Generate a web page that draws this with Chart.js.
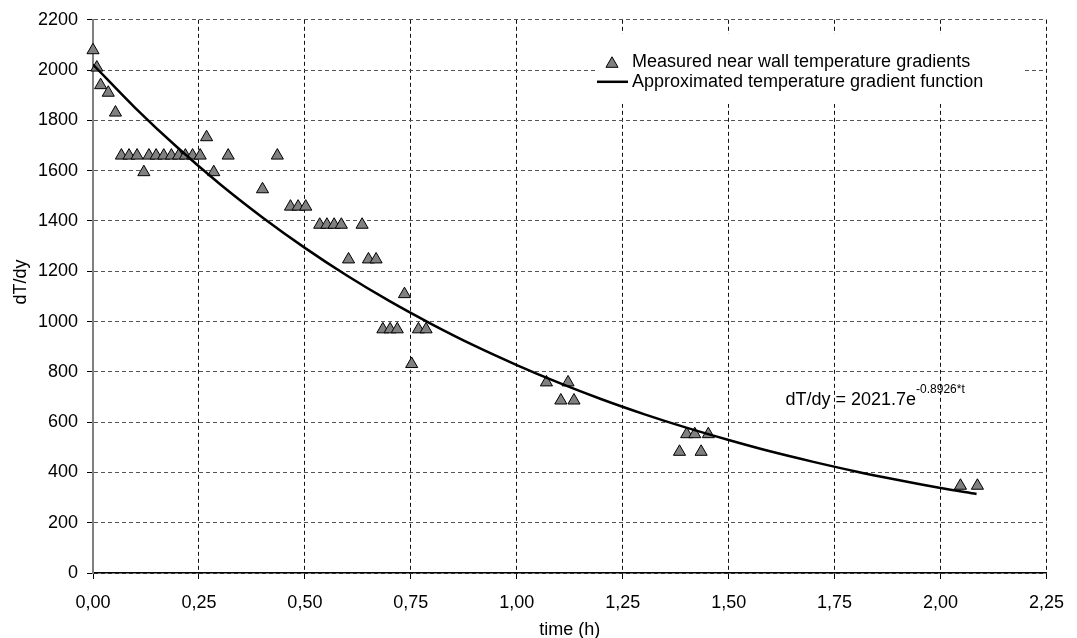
<!DOCTYPE html>
<html>
<head>
<meta charset="utf-8">
<script src="https://cdn.jsdelivr.net/npm/chart.js@4.4.0/dist/chart.umd.min.js"></script>
<style>
  html, body { margin: 0; padding: 0; background: #fff; }
  #wrap { width: 1077px; height: 638px; }
</style>
</head>
<body>
<div id="wrap"><canvas id="chart" width="1077" height="638"></canvas></div>
<script>
// measured points (time in h, dT/dy)
const measuredT = [0.000, 0.009, 0.018, 0.036, 0.053, 0.067, 0.085, 0.104, 0.120, 0.132,
                   0.149, 0.167, 0.185, 0.202, 0.218, 0.235, 0.253, 0.268, 0.285, 0.319,
                   0.400, 0.435, 0.466, 0.484, 0.502, 0.535, 0.552, 0.569, 0.586, 0.603,
                   0.635, 0.650, 0.668, 0.684, 0.701, 0.718, 0.735, 0.752, 0.768, 0.786,
                   1.070, 1.104, 1.121, 1.135, 1.384, 1.401, 1.420, 1.435, 1.452, 2.047, 2.087];
const measuredV = [2079, 2010, 1940, 1910, 1831, 1660, 1660, 1660, 1594, 1660,
                   1660, 1660, 1660, 1660, 1660, 1660, 1660, 1733, 1594, 1660,
                   1526, 1660, 1457, 1457, 1457, 1385, 1385, 1385, 1385, 1247,
                   1385, 1247, 1247, 969, 969, 969, 1109, 831, 969, 969,
                   758, 686, 758, 686, 482, 552, 552, 482, 552, 347, 347];

// fitted curve as drawn
const fitT = [0, 0.1, 0.2, 0.3, 0.4, 0.5, 0.6, 0.7, 0.8, 0.9, 1.0,
              1.1, 1.2, 1.3, 1.4, 1.5, 1.6, 1.7, 1.8, 1.9, 2.0, 2.085];
const fitV = [2022, 1849, 1691, 1546, 1414, 1293, 1182, 1081, 989, 904, 827,
              756, 691, 632, 578, 529, 483, 442, 404, 370, 338, 314];

const xTickLabels = ['0,00', '0,25', '0,50', '0,75', '1,00', '1,25', '1,50', '1,75', '2,00', '2,25'];
const yTickLabels = ['0', '200', '400', '600', '800', '1000', '1200', '1400', '1600', '1800', '2000', '2200'];

const seriesNames = ['Measured near wall temperature gradients', 'Approximated temperature gradient function'];
const eqMain = 'dT/dy = 2021.7e';
const eqSup = '-0.8926*t';
const eqAt = [1.634, 667];

const FONT = '"Liberation Sans", Arial, sans-serif';

const overlay = {
  id: 'overlay',
  afterDatasetsDraw(chart) {
    const {ctx, chartArea: a, scales: {x, y}} = chart;
    ctx.save();

    // legend box inside the plot
    const lx = a.left + 504, ly = a.top + 14;
    ctx.fillStyle = '#fff';
    ctx.fillRect(lx, ly, 428, 70);

    const cx = lx + 15, cy = ly + 30, r = 7;
    ctx.beginPath();
    ctx.moveTo(cx, cy - r);
    ctx.lineTo(cx + r * Math.sin(2 * Math.PI / 3), cy - r * Math.cos(2 * Math.PI / 3));
    ctx.lineTo(cx + r * Math.sin(4 * Math.PI / 3), cy - r * Math.cos(4 * Math.PI / 3));
    ctx.closePath();
    ctx.fillStyle = '#808080';
    ctx.fill();
    ctx.lineWidth = 1;
    ctx.strokeStyle = '#000';
    ctx.stroke();

    ctx.beginPath();
    ctx.moveTo(lx, ly + 48);
    ctx.lineTo(lx + 31, ly + 48);
    ctx.lineWidth = 2.5;
    ctx.stroke();

    ctx.fillStyle = '#000';
    ctx.font = '18px ' + FONT;
    ctx.textAlign = 'left';
    ctx.textBaseline = 'middle';
    ctx.fillText(seriesNames[0], lx + 35, ly + 28);
    ctx.fillText(seriesNames[1], lx + 35, ly + 48);

    // equation of the fit
    const ex = x.getPixelForValue(eqAt[0]), ey = y.getPixelForValue(eqAt[1]);
    ctx.textBaseline = 'alphabetic';
    ctx.fillText(eqMain, ex, ey);
    const w = ctx.measureText(eqMain).width;
    ctx.font = '12px ' + FONT;
    ctx.fillText(eqSup, ex + w, ey - 12);

    // y axis title
    ctx.font = '18px ' + FONT;
    ctx.translate(21, 282);
    ctx.rotate(-Math.PI / 2);
    ctx.textAlign = 'center';
    ctx.textBaseline = 'middle';
    ctx.fillText('dT/dy', 0, 0);
    ctx.restore();
  }
};

new Chart(document.getElementById('chart'), {
  type: 'scatter',
  data: {
    datasets: [
      {
        label: seriesNames[1],
        type: 'line',
        data: fitT.map((t, i) => ({x: t, y: fitV[i]})),
        borderColor: '#000',
        borderWidth: 2.5,
        pointRadius: 0,
        fill: false,
        cubicInterpolationMode: 'monotone',
        order: 0
      },
      {
        label: seriesNames[0],
        data: measuredT.map((t, i) => ({x: t, y: measuredV[i]})),
        pointStyle: 'triangle',
        pointRadius: 7,
        pointHoverRadius: 7,
        backgroundColor: '#808080',
        borderColor: '#000',
        borderWidth: 1,
        clip: false,
        order: 1
      }
    ]
  },
  options: {
    responsive: false,
    animation: false,
    devicePixelRatio: 1,
    layout: {padding: {top: 16, right: 26, left: 0, bottom: 0}},
    plugins: {legend: {display: false}, tooltip: {enabled: false}},
    scales: {
      x: {
        type: 'linear',
        min: 0, max: 2.25,
        afterFit(s) { s.height = 65; },
        ticks: {
          stepSize: 0.25,
          callback: (v, i) => xTickLabels[i],
          color: '#000',
          font: {family: FONT, size: 18},
          padding: 13,
          maxRotation: 0,
          autoSkip: false
        },
        grid: {color: '#111', lineWidth: 1, tickLength: 6, tickColor: '#000', tickBorderDash: []},
        border: {color: '#000', width: 1.5, dash: [4, 3]},
        title: {
          display: true, text: 'time (h)', color: '#000',
          font: {family: FONT, size: 18, lineHeight: 1},
          padding: {top: 0, bottom: -1}
        }
      },
      y: {
        min: 0, max: 2200,
        afterFit(s) { s.width = 93; },
        ticks: {
          stepSize: 200,
          callback: (v, i) => yTickLabels[i],
          color: '#000',
          font: {family: FONT, size: 18},
          padding: 9
        },
        grid: {color: '#555', lineWidth: 1, tickLength: 6, tickColor: '#000', tickBorderDash: []},
        border: {color: '#808080', width: 2, dash: [4, 3]}
      }
    }
  },
  plugins: [overlay]
});
</script>
</body>
</html>
